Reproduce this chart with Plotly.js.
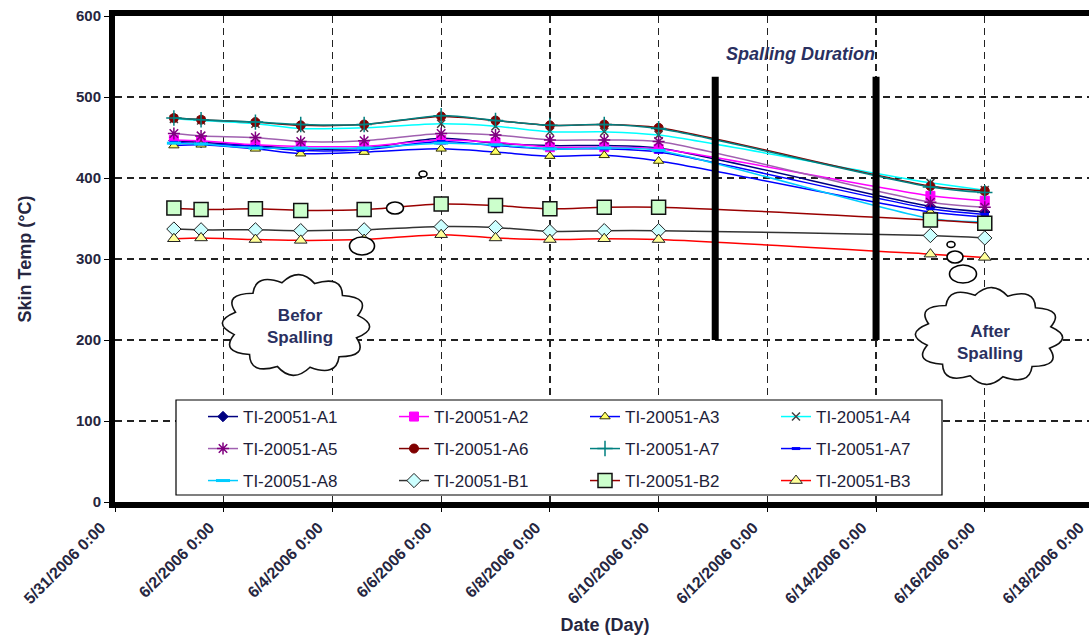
<!DOCTYPE html>
<html>
<head>
<meta charset="utf-8">
<script src="https://cdn.plot.ly/plotly-3.0.1.min.js"></script>
<style>
html,body{margin:0;padding:0;overflow:hidden;background:#fff;}
#chart{width:1095px;height:641px;}
</style>
</head>
<body>
<div id="chart"></div>
<script>
// ---- data ----
const dates = ['2006-06-01 02:00','2006-06-01 14:00','2006-06-02 14:00','2006-06-03 10:00','2006-06-04 14:00',
  '2006-06-06 00:00','2006-06-07 00:00','2006-06-08 00:00','2006-06-09 00:00','2006-06-10 00:00',
  '2006-06-15 00:00','2006-06-16 00:00'];
const seriesNames = ['TI-20051-A1','TI-20051-A2','TI-20051-A3','TI-20051-A4',
  'TI-20051-A5','TI-20051-A6','TI-20051-A7','TI-20051-A7',
  'TI-20051-A8','TI-20051-B1','TI-20051-B2','TI-20051-B3'];
const A1  = [446, 444, 440, 436, 437, 449, 443, 440, 440, 437, 365, 358];
const A2  = [447, 446, 441, 439, 439, 447, 444, 438, 438, 436, 378, 372];
const A3  = [440, 441, 436, 430, 432, 436, 432, 427, 428, 421, 358, 352];
const A4  = [473, 471, 467, 461, 462, 467, 464, 457, 457, 453, 394, 385];
const A5  = [455, 452, 450, 445, 446, 455, 453, 447, 447, 445, 370, 364];
const A6  = [474, 472, 469, 465, 466, 476, 471, 465, 466, 462, 390, 384];
const A7  = [474, 472, 469, 466, 466, 477, 471, 465, 466, 461, 389, 382];
const A7b = [444, 442, 439, 434, 435, 445, 440, 436, 436, 432, 362, 355];
const A8  = [443, 442, 437, 437, 437, 443, 441, 436, 437, 434, 350, 346];
const B1  = [337, 336, 336, 335, 336, 340, 339, 334, 335, 335, 329, 326];
const B2  = [363, 361, 362, 360, 361, 368, 366, 362, 364, 364, 348, 344];
const B3  = [325, 326, 324, 323, 324, 330, 326, 324, 325, 324, 306, 302];
const seriesValues = [A1, A2, A3, A4, A5, A6, A7, A7b, A8, B1, B2, B3];
const yTicks = [0, 100, 200, 300, 400, 500, 600];
const spallingStart = '2006-06-11 01:00';
const spallingEnd = '2006-06-14 00:00';

// ---- styles ----
const styles = [
  {lc:'#000080', m:{symbol:'diamond', size:8, color:'#000080', line:{color:'#000080', width:1}}},
  {lc:'#FF00FF', m:{symbol:'square', size:9, color:'#FF00FF', line:{color:'#FF00FF', width:1}}},
  {lc:'#0000FF', m:{symbol:'triangle-up', size:9, color:'#FFFF66', line:{color:'#333300', width:1}}},
  {lc:'#00FFFF', m:{symbol:'x-thin', size:8, color:'#404040', line:{color:'#404040', width:1.5}}},
  {lc:'#A060B0', m:{symbol:'asterisk', size:10, color:'#800080', line:{color:'#800080', width:1.5}}},
  {lc:'#800000', m:{symbol:'circle', size:9, color:'#800000', line:{color:'#800000', width:1}}},
  {lc:'#008080', m:{symbol:'cross-thin', size:11, color:'#008080', line:{color:'#008080', width:1.5}}},
  {lc:'#0000FF', m:{symbol:'line-ew', size:6, color:'#0000FF', line:{color:'#0000FF', width:3}}},
  {lc:'#00CCFF', m:{symbol:'line-ew', size:10, color:'#00CCFF', line:{color:'#00CCFF', width:3}}},
  {lc:'#333333', m:{symbol:'diamond', size:11, color:'#CCFFFF', line:{color:'#222222', width:1}}},
  {lc:'#990000', m:{symbol:'square', size:14, color:'#CCFFCC', line:{color:'#111111', width:1.5}}},
  {lc:'#FF0000', m:{symbol:'triangle-up', size:11, color:'#FFFF99', line:{color:'#222222', width:1}}}
];
const legendIds = ['legend','legend','legend','legend','legend2','legend2','legend2','legend2','legend3','legend3','legend3','legend3'];

const traces = seriesValues.map((vals, i) => ({
  type:'scatter', mode:'lines+markers', name: seriesNames[i], x: dates, y: vals,
  line:{color: styles[i].lc, width:1.5, shape:'spline', smoothing:0.8},
  marker: styles[i].m, legend: legendIds[i]
}));

// ---- layout helpers ----
const L = 115, T = 16, W = 980, H = 486;
const px = p => (p - L) / W;
const py = p => (T + H - p) / H;

function cloudPath(cx, cy, hw, hh, n, bulge) {
  const rx = hw / (1 + bulge/2 + 0.02), ry = hh / (1 + bulge/2 + 0.02);
  const pts = [], ctr = [];
  const ph = 0.3;
  for (let i = 0; i <= n; i++) {
    const a = ph + 2*Math.PI*i/n;
    pts.push([cx + rx*Math.cos(a), cy + ry*Math.sin(a)]);
    const am = ph + 2*Math.PI*(i+0.5)/n;
    ctr.push([cx + rx*(1+bulge)*Math.cos(am), cy + ry*(1+bulge)*Math.sin(am)]);
  }
  let d = 'M' + px(pts[0][0]).toFixed(5) + ',' + py(pts[0][1]).toFixed(5);
  for (let i = 0; i < n; i++) {
    d += ' Q' + px(ctr[i][0]).toFixed(5) + ',' + py(ctr[i][1]).toFixed(5) + ' ' +
         px(pts[i+1][0]).toFixed(5) + ',' + py(pts[i+1][1]).toFixed(5);
  }
  return d + ' Z';
}
function oval(cx, cy, w, h) {
  return {type:'circle', xref:'paper', yref:'paper', layer:'above',
    x0: px(cx - w/2), x1: px(cx + w/2), y0: py(cy + h/2), y1: py(cy - h/2),
    fillcolor:'#ffffff', line:{color:'#000000', width:1.6}};
}

const shapes = [
  // legend box
  {type:'rect', xref:'paper', yref:'paper', layer:'above', x0:px(176), x1:px(942), y0:py(495), y1:py(400),
   fillcolor:'#ffffff', line:{color:'#000000', width:1.2}},
  // spalling duration bars
  {type:'line', xref:'x', yref:'y', x0:spallingStart, x1:spallingStart, y0:200, y1:525, line:{color:'#000000', width:7}},
  {type:'line', xref:'x', yref:'y', x0:spallingEnd, x1:spallingEnd, y0:200, y1:525, line:{color:'#000000', width:7}},
  // clouds
  {type:'path', xref:'paper', yref:'paper', layer:'above', path: cloudPath(296, 325, 76, 52, 12, 0.36),
   fillcolor:'#ffffff', line:{color:'#111111', width:1.6}},
  {type:'path', xref:'paper', yref:'paper', layer:'above', path: cloudPath(989, 336, 76, 50, 12, 0.36),
   fillcolor:'#ffffff', line:{color:'#111111', width:1.6}},
  oval(362, 246, 25, 18), oval(395, 208, 17, 12), oval(423, 174, 8, 6),
  oval(963, 274, 27, 18), oval(955, 257, 16, 12), oval(951, 244.5, 8, 6)
];

const txtColor = '#2a3060';
const annFont = {family:'Liberation Sans, Arial, sans-serif', size:17, weight:'bold', color:txtColor};
const annotations = [
  {xref:'paper', yref:'paper', x:px(800), y:py(54), xanchor:'center', yanchor:'middle',
   text:'Spalling Duration', showarrow:false, font:Object.assign({}, annFont, {size:18, style:'italic'})},
  {xref:'paper', yref:'paper', x:px(300), y:py(326), xanchor:'center', yanchor:'middle',
   text:'Befor<br>Spalling', showarrow:false, font:annFont},
  {xref:'paper', yref:'paper', x:px(990), y:py(342), xanchor:'center', yanchor:'middle',
   text:'After<br>Spalling', showarrow:false, font:annFont}
];

const legFont = {family:'Liberation Sans, Arial, sans-serif', size:17, color:'#1e1e3a'};
function legendAt(yPx) {
  return {orientation:'h', x:px(203), xanchor:'left', y:py(yPx), yanchor:'middle',
    bgcolor:'rgba(0,0,0,0)', borderwidth:0, font:legFont, entrywidth:146, entrywidthmode:'pixels',
    traceorder:'normal', itemclick:false, itemdoubleclick:false};
}

const gridStyle = {gridcolor:'#222222', gridwidth:1.3, griddash:'7px,5px'};
const layout = {
  width:1095, height:641,
  margin:{l:L, r:0, t:T, b:641 - T - H},
  paper_bgcolor:'#ffffff', plot_bgcolor:'#ffffff',
  font:{family:'Liberation Sans, Arial, sans-serif', color:'#262640'},
  showlegend:true,
  legend: legendAt(417), legend2: legendAt(449), legend3: legendAt(481),
  xaxis:Object.assign({
    type:'date', range:['2006-05-31 00:00','2006-06-18 00:40'], tick0:'2006-05-31', dtick:2*86400000,
    tickformat:'%-m/%-d/%Y %-H:%M', tickangle:-45, ticklabeloverflow:'allow', ticklabelshift:-14,
    tickfont:{size:16, weight:'bold', color:'#262640'},
    showline:true, linecolor:'#000000', linewidth:6, mirror:true,
    ticks:'outside', ticklen:4, tickcolor:'#000000', zeroline:false,
    title:{text:'Date (Day)', font:{size:18, weight:'bold', color:'#262640'}, standoff:14}
  }, gridStyle),
  yaxis:Object.assign({
    range:[0, 600], tickvals:yTicks, ticktext:yTicks.map(String),
    tickfont:{size:15, weight:'bold', color:'#262640'},
    showline:true, linecolor:'#000000', linewidth:6, mirror:true,
    ticks:'outside', ticklen:5, tickcolor:'#000000', zeroline:false,
    title:{text:'Skin Temp (°C)', font:{size:18, weight:'bold', color:'#262640'}, standoff:42}
  }, gridStyle),
  shapes: shapes,
  annotations: annotations
};

Plotly.newPlot('chart', traces, layout, {displayModeBar:false, staticPlot:true});
</script>
</body>
</html>
